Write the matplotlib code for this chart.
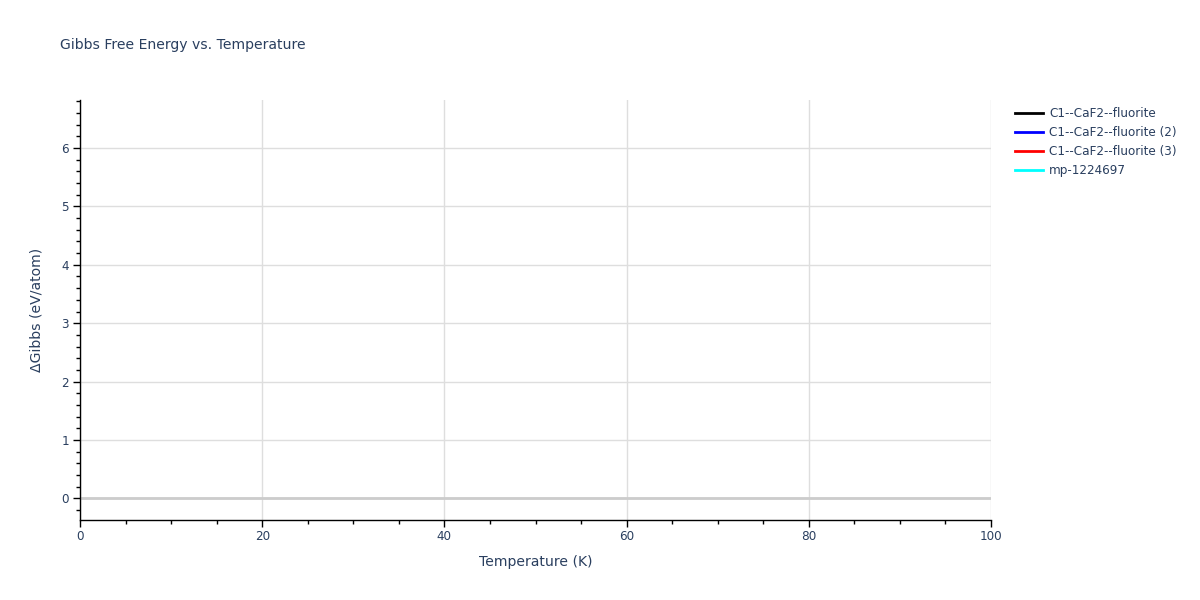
import matplotlib
matplotlib.use("Agg")
import matplotlib.pyplot as plt
from matplotlib.ticker import MultipleLocator

plt.rcParams["font.family"] = ["DejaVu Sans"]

# series shown in the legend; the reference has no visible points in range
SERIES = ["C1--CaF2--fluorite", "C1--CaF2--fluorite (2)", "C1--CaF2--fluorite (3)", "mp-1224697"]
COLORS = ["black", "blue", "red", "cyan"]
TEMPS = [[], [], [], []]
GIBBS = [[], [], [], []]

TEXT = "#2a3f5f"
PX = 72 / 100  # pixels to points at dpi 100

fig = plt.figure(figsize=(12, 6), dpi=100)
ax = fig.add_axes([80 / 1200, 80 / 600, 911 / 1200, 420 / 600])

for name, color, t, g in zip(SERIES, COLORS, TEMPS, GIBBS):
    ax.plot(t, g, color=color, linewidth=2, label=name)

ax.set_xlim(0, 100)
ax.set_ylim(-0.368, 6.82)
ax.xaxis.set_major_locator(MultipleLocator(20))
ax.xaxis.set_minor_locator(MultipleLocator(5))
ax.yaxis.set_major_locator(MultipleLocator(1))
ax.yaxis.set_minor_locator(MultipleLocator(0.2))

ax.grid(True, which="major", color="#dedede", linewidth=1)
ax.axhline(0, color="#cccccc", linewidth=2, zorder=1)
ax.set_axisbelow(True)

for side in ["top", "right"]:
    ax.spines[side].set_visible(False)
for side in ["left", "bottom"]:
    ax.spines[side].set_color("black")
    ax.spines[side].set_linewidth(1)

ax.tick_params(which="major", direction="out", length=5, width=1, color="black",
               labelsize=12 * PX, labelcolor=TEXT, pad=3)
ax.tick_params(which="minor", direction="out", length=3, width=1, color="black")
ax.tick_params(axis="x", which="major", pad=2)

ax.set_xlabel("Temperature (K)", fontsize=14 * PX, color=TEXT, labelpad=9)
ax.set_ylabel("ΔGibbs (eV/atom)", fontsize=14 * PX, color=TEXT, labelpad=13)

fig.text(60 / 1200, 1 - 45 / 600, "Gibbs Free Energy vs. Temperature",
         fontsize=14 * PX, color=TEXT, va="center", ha="left")

leg = ax.legend(loc="upper left", bbox_to_anchor=(1015 / 1200, 1 - 107 / 600),
                bbox_transform=fig.transFigure, frameon=False,
                fontsize=12 * PX, handlelength=2.33, handletextpad=0.5,
                labelspacing=0.5, borderaxespad=0, borderpad=0)
for txt in leg.get_texts():
    txt.set_color(TEXT)
for line in leg.get_lines():
    line.set_linewidth(2)

fig.savefig("out.png", dpi=100)
